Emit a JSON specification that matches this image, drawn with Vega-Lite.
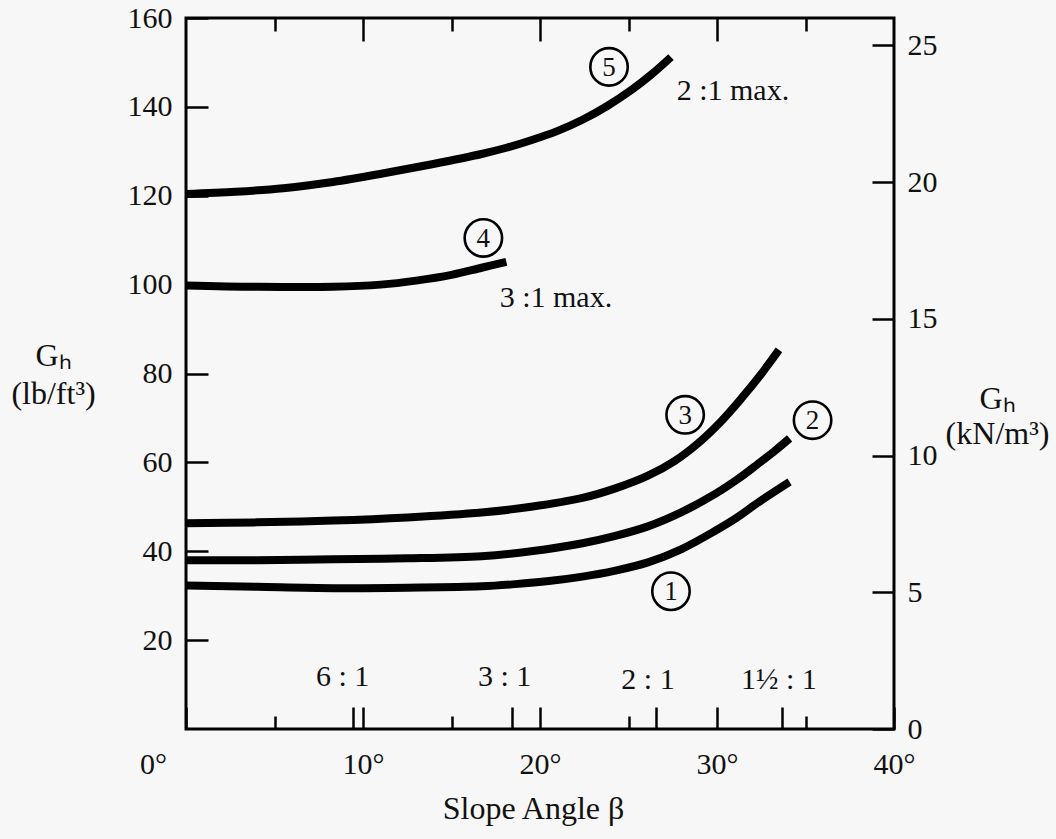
{
  "$schema": "https://vega.github.io/schema/vega-lite/v6.json",
  "width": 708,
  "height": 711,
  "autosize": {"type": "none"},
  "padding": {"left": 186, "top": 18, "right": 162, "bottom": 110},
  "background": "#f7f7f7",
  "config": {
    "view": {"stroke": "#000", "strokeWidth": 3},
    "font": "Liberation Serif",
    "axis": {
      "domain": false,
      "grid": false,
      "labelFont": "Liberation Serif",
      "labelFontSize": 30,
      "labelColor": "#111",
      "tickColor": "#000",
      "tickWidth": 2.5,
      "titleFont": "Liberation Serif",
      "titleFontSize": 32,
      "titleFontWeight": "normal",
      "titleColor": "#111",
      "labelOverlap": false,
      "labelFlush": false
    }
  },
  "datasets": {
    "curves": [
      {"curve": "1", "angle": 0, "gh": 32.3}, {"curve": "1", "angle": 4, "gh": 32.0}, {"curve": "1", "angle": 8.3, "gh": 31.7}, {"curve": "1", "angle": 12.5, "gh": 31.8}, {"curve": "1", "angle": 16.7, "gh": 32.1}, {"curve": "1", "angle": 18.6, "gh": 32.6}, {"curve": "1", "angle": 20.5, "gh": 33.3}, {"curve": "1", "angle": 22.4, "gh": 34.3}, {"curve": "1", "angle": 24.2, "gh": 35.6}, {"curve": "1", "angle": 26.1, "gh": 37.5}, {"curve": "1", "angle": 28, "gh": 40.5}, {"curve": "1", "angle": 29.9, "gh": 44.6}, {"curve": "1", "angle": 31.1, "gh": 47.5}, {"curve": "1", "angle": 32.3, "gh": 50.9}, {"curve": "1", "angle": 34.1, "gh": 55.6},
      {"curve": "2", "angle": 0, "gh": 38.0}, {"curve": "2", "angle": 4, "gh": 38.0}, {"curve": "2", "angle": 8.3, "gh": 38.2}, {"curve": "2", "angle": 12.5, "gh": 38.4}, {"curve": "2", "angle": 16.7, "gh": 38.9}, {"curve": "2", "angle": 19.5, "gh": 40.0}, {"curve": "2", "angle": 22.4, "gh": 41.8}, {"curve": "2", "angle": 24.2, "gh": 43.4}, {"curve": "2", "angle": 26.1, "gh": 45.6}, {"curve": "2", "angle": 28, "gh": 48.8}, {"curve": "2", "angle": 29.9, "gh": 52.9}, {"curve": "2", "angle": 31.2, "gh": 56.3}, {"curve": "2", "angle": 32.3, "gh": 59.6}, {"curve": "2", "angle": 33.3, "gh": 62.7}, {"curve": "2", "angle": 34.1, "gh": 65.4},
      {"curve": "3", "angle": 0, "gh": 46.3}, {"curve": "3", "angle": 4, "gh": 46.5}, {"curve": "3", "angle": 8.3, "gh": 46.9}, {"curve": "3", "angle": 12.5, "gh": 47.6}, {"curve": "3", "angle": 16.7, "gh": 48.7}, {"curve": "3", "angle": 19.5, "gh": 50.0}, {"curve": "3", "angle": 22.4, "gh": 52.0}, {"curve": "3", "angle": 24.3, "gh": 54.2}, {"curve": "3", "angle": 26.1, "gh": 57.0}, {"curve": "3", "angle": 27.6, "gh": 60.3}, {"curve": "3", "angle": 28.9, "gh": 64.2}, {"curve": "3", "angle": 30.2, "gh": 69.1}, {"curve": "3", "angle": 31.4, "gh": 74.5}, {"curve": "3", "angle": 32.5, "gh": 79.9}, {"curve": "3", "angle": 33.5, "gh": 85.3},
      {"curve": "4", "angle": 0, "gh": 99.8}, {"curve": "4", "angle": 4, "gh": 99.5}, {"curve": "4", "angle": 8.3, "gh": 99.5}, {"curve": "4", "angle": 11, "gh": 100.0}, {"curve": "4", "angle": 13, "gh": 100.9}, {"curve": "4", "angle": 15, "gh": 102.2}, {"curve": "4", "angle": 16.7, "gh": 103.8}, {"curve": "4", "angle": 18.1, "gh": 105.1},
      {"curve": "5", "angle": 0, "gh": 120.4}, {"curve": "5", "angle": 2.8, "gh": 120.9}, {"curve": "5", "angle": 5.5, "gh": 121.7}, {"curve": "5", "angle": 8.3, "gh": 123.1}, {"curve": "5", "angle": 11.1, "gh": 125.0}, {"curve": "5", "angle": 13.9, "gh": 127.1}, {"curve": "5", "angle": 16.7, "gh": 129.4}, {"curve": "5", "angle": 18.1, "gh": 130.8}, {"curve": "5", "angle": 19.5, "gh": 132.5}, {"curve": "5", "angle": 21, "gh": 134.6}, {"curve": "5", "angle": 22.4, "gh": 137.1}, {"curve": "5", "angle": 23.8, "gh": 140.2}, {"curve": "5", "angle": 25.2, "gh": 143.9}, {"curve": "5", "angle": 26.3, "gh": 147.3}, {"curve": "5", "angle": 27.4, "gh": 151.2}
    ],
    "circles": [
      {"label": "1", "angle": 27.4, "gh": 31.0},
      {"label": "2", "angle": 35.4, "gh": 69.5},
      {"label": "3", "angle": 28.2, "gh": 70.7},
      {"label": "4", "angle": 16.8, "gh": 110.5},
      {"label": "5", "angle": 23.9, "gh": 149.0}
    ],
    "notes": [
      {"note": "2 :1 max.", "angle": 30.9, "gh": 143.6},
      {"note": "3 :1 max.", "angle": 20.9, "gh": 97.0},
      {"note": "6 : 1", "angle": 8.85, "gh": 11.7},
      {"note": "3 : 1", "angle": 18.0, "gh": 11.7},
      {"note": "2 : 1", "angle": 26.1, "gh": 11.0},
      {"note": "1½ : 1", "angle": 33.5, "gh": 11.0}
    ],
    "kn": [{"angle": 0, "kn": 0}, {"angle": 40, "kn": 26}]
  },
  "layer": [
    {
      "layer": [
        {
          "data": {"name": "curves"},
          "mark": {"type": "line", "interpolate": "catmull-rom", "strokeWidth": 8, "color": "#000", "strokeCap": "butt"},
          "encoding": {
            "x": {
              "field": "angle", "type": "quantitative",
              "scale": {"domain": [0, 40], "nice": false, "zero": false},
              "axis": {
                "orient": "bottom",
                "values": [0, 5, 9.46, 10, 15, 18.43, 20, 25, 26.57, 30, 33.69, 35, 40],
                "labelExpr": "datum.value % 10 == 0 ? datum.value + '°' : ''",
                "tickSize": {"condition": {"test": "datum.value % 10 == 5", "value": -13}, "value": -22},
                "labelPadding": 42,
                "labelBaseline": "top",
                "labelOffset": {"condition": {"test": "datum.value == 0", "value": -33}, "value": 0},
                "title": "Slope Angle β",
                "titleX": 347,
                "titleY": 79,
                "titleBaseline": "middle"
              }
            },
            "y": {
              "field": "gh", "type": "quantitative",
              "scale": {"domain": [0, 160], "nice": false},
              "axis": {
                "orient": "left",
                "values": [20, 40, 60, 80, 100, 120, 140, 160],
                "tickSize": -22,
                "labelPadding": 36,
                "labelBaseline": "middle",
                "title": ["Gₕ", "(lb/ft³)"],
                "titleAngle": 0,
                "titleX": -133,
                "titleY": 337,
                "titleAlign": "center",
                "titleBaseline": "middle",
                "titleLineHeight": 38
              }
            },
            "detail": {"field": "curve"}
          }
        },
        {
          "data": {"name": "circles"},
          "mark": {"type": "point", "shape": "circle", "filled": false, "size": 1400, "stroke": "#000", "strokeWidth": 2.6, "opacity": 1},
          "encoding": {
            "x": {"field": "angle", "type": "quantitative"},
            "y": {"field": "gh", "type": "quantitative"}
          }
        },
        {
          "data": {"name": "circles"},
          "mark": {"type": "text", "fontSize": 27, "font": "Liberation Serif", "baseline": "middle", "align": "center", "color": "#111", "dy": 1},
          "encoding": {
            "x": {"field": "angle", "type": "quantitative"},
            "y": {"field": "gh", "type": "quantitative"},
            "text": {"field": "label"}
          }
        },
        {
          "data": {"name": "notes"},
          "mark": {"type": "text", "fontSize": 30, "font": "Liberation Serif", "baseline": "middle", "align": "center", "color": "#111"},
          "encoding": {
            "x": {"field": "angle", "type": "quantitative"},
            "y": {"field": "gh", "type": "quantitative"},
            "text": {"field": "note"}
          }
        }
      ]
    },
    {
      "data": {"name": "kn"},
      "mark": {"type": "point", "opacity": 0},
      "encoding": {
        "x": {
          "field": "angle", "type": "quantitative",
          "scale": {"domain": [0, 40], "nice": false, "zero": false},
          "axis": {
            "orient": "top",
            "values": [5, 10, 15, 20, 25, 30, 35],
            "labels": false,
            "tickSize": {"condition": {"test": "datum.value % 10 == 0", "value": -23}, "value": -13},
            "title": null
          }
        },
        "y": {
          "field": "kn", "type": "quantitative",
          "scale": {"domain": [0, 26], "nice": false},
          "axis": {
            "orient": "right",
            "values": [0, 5, 10, 15, 20, 25],
            "tickSize": -22,
            "labelPadding": 35,
            "labelBaseline": "middle",
            "title": ["Gₕ", "(kN/m³)"],
            "titleAngle": 0,
            "titleX": 103,
            "titleY": 380,
            "titleAlign": "center",
            "titleBaseline": "middle",
            "titleLineHeight": 35
          }
        }
      }
    }
  ],
  "resolve": {"scale": {"y": "independent"}, "axis": {"x": "independent", "y": "independent"}}
}
